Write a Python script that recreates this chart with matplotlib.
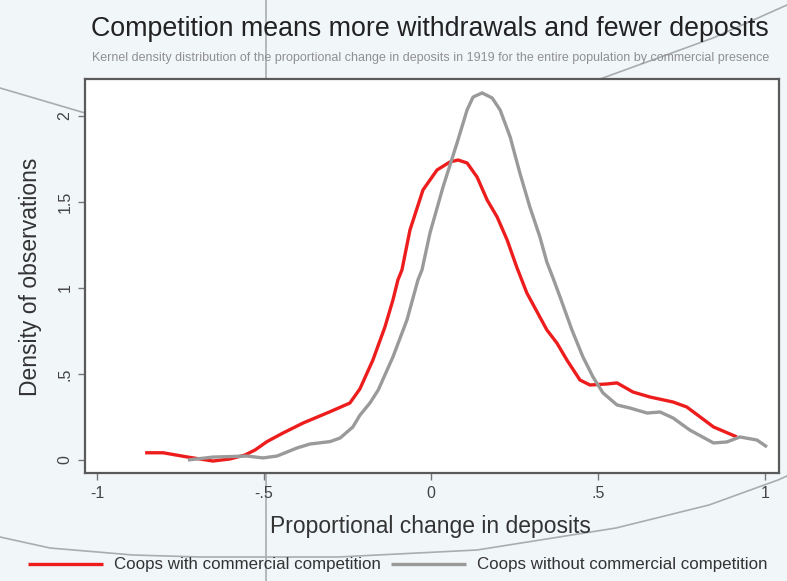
import matplotlib
matplotlib.use("Agg")
import matplotlib.pyplot as plt
from matplotlib.lines import Line2D
import numpy as np

plt.rcParams['font.family'] = ['Liberation Sans', 'DejaVu Sans']

title = "Competition means more withdrawals and fewer deposits"
subtitle = ("Kernel density distribution of the proportional change in deposits in 1919 "
            "for the entire population by commercial presence")
xlabel = "Proportional change in deposits"
ylabel = "Density of observations"
series_names = ["Coops with commercial competition", "Coops without commercial competition"]

xticks = [-1, -0.5, 0, 0.5, 1]
xtick_labels = ["-1", "-.5", "0", ".5", "1"]
yticks = [0, 0.5, 1, 1.5, 2]
ytick_labels = ["0", ".5", "1", "1.5", "2"]

red_x = [-0.856, -0.802, -0.728, -0.653, -0.602, -0.557, -0.527, -0.491, -0.443, -0.383,
         -0.302, -0.243, -0.213, -0.174, -0.138, -0.114, -0.099, -0.087, -0.063, -0.024,
         0.018, 0.057, 0.081, 0.108, 0.138, 0.168, 0.198, 0.228, 0.257, 0.287,
         0.326, 0.347, 0.377, 0.407, 0.446, 0.476, 0.527, 0.557, 0.605, 0.656,
         0.725, 0.766, 0.806, 0.846, 0.916]
red_y = [0.042, 0.042, 0.017, -0.006, 0.006, 0.029, 0.058, 0.107, 0.157, 0.215,
         0.281, 0.331, 0.413, 0.581, 0.773, 0.930, 1.047, 1.105, 1.337, 1.570,
         1.686, 1.733, 1.744, 1.727, 1.645, 1.512, 1.413, 1.279, 1.120, 0.971,
         0.831, 0.756, 0.680, 0.581, 0.465, 0.436, 0.442, 0.448, 0.395, 0.366,
         0.337, 0.308, 0.250, 0.192, 0.134]

gray_x = [-0.728, -0.653, -0.551, -0.503, -0.461, -0.401, -0.362, -0.302, -0.272, -0.234,
          -0.213, -0.183, -0.158, -0.114, -0.072, -0.039, -0.027, -0.003, 0.036, 0.078,
          0.108, 0.126, 0.153, 0.183, 0.207, 0.237, 0.266, 0.296, 0.326, 0.347,
          0.365, 0.386, 0.422, 0.455, 0.485, 0.515, 0.557, 0.596, 0.647, 0.686,
          0.725, 0.775, 0.846, 0.886, 0.925, 0.976, 1.006]
gray_y = [0.000, 0.017, 0.023, 0.012, 0.023, 0.070, 0.093, 0.107, 0.128, 0.192,
          0.260, 0.331, 0.407, 0.599, 0.814, 1.047, 1.105, 1.320, 1.587, 1.843,
          2.035, 2.110, 2.134, 2.105, 2.035, 1.878, 1.669, 1.471, 1.297, 1.150,
          1.060, 0.950, 0.756, 0.599, 0.483, 0.390, 0.320, 0.302, 0.273, 0.279,
          0.244, 0.174, 0.099, 0.105, 0.134, 0.116, 0.076]

W, H = 787, 581
bg = "#f1f6f9"
fig = plt.figure(figsize=(W / 100, H / 100), dpi=100, facecolor=bg)

# decorative background arcs
def px(xs, ys):
    return [x / W for x in xs], [1 - y / H for y in ys]

deco = "#a9adb0"
for xs, ys in [
    ([0, 50, 133, 200, 338, 477, 616, 709, 778, 787], [537, 548, 555, 557, 557, 550, 528, 505, 480, 476]),
    ([787, 713, 600], [5, 38, 79]),
    ([0, 85], [88, 113]),
    ([266, 266], [0, 581]),
]:
    fx, fy = px(xs, ys)
    fig.add_artist(Line2D(fx, fy, transform=fig.transFigure, color=deco, lw=1.2, zorder=0))

ax = fig.add_axes([85 / W, 1 - 473 / H, (779 - 85) / W, (473 - 79) / H])
ax.set_facecolor("white")
ax.set_zorder(2)

l1, = ax.plot(red_x, red_y, color="#ee1d1d", lw=2.4, solid_capstyle="butt")
l2, = ax.plot(gray_x, gray_y, color="#9a9a9a", lw=2.4, solid_capstyle="butt")

ax.set_xlim(-1.036, 1.042)
ax.set_ylim(-0.0756, 2.215)
ax.set_xticks(xticks)
ax.set_xticklabels(xtick_labels)
ax.set_yticks(yticks)
ax.set_yticklabels(ytick_labels, rotation=90, va="center")
ax.tick_params(axis="both", direction="out", length=5, width=1, color="#777777",
               labelcolor="#444444", labelsize=11.5, pad=4)
for s in ax.spines.values():
    s.set_color("#5a5a5a")
    s.set_linewidth(1.6)

fig.text(430 / W, 1 - 29 / H, title, ha="center", va="center", fontsize=19.3, color="#222222")
fig.text(431 / W, 1 - 58 / H, subtitle, ha="center", va="center", fontsize=9.0, color="#909090")
fig.text(31 / W, 1 - 277 / H, ylabel, rotation=90, ha="center", va="center", fontsize=16.5, color="#333333")
fig.text(430 / W, 1 - 526 / H, xlabel, ha="center", va="center", fontsize=16.5, color="#333333")

fig.legend([l1, l2], series_names, loc="center left", bbox_to_anchor=(28 / W, 1 - 565 / H),
           ncol=2, frameon=False, fontsize=12.2, handlelength=4.4, handletextpad=0.7,
           columnspacing=0.57, borderpad=0, borderaxespad=0, labelcolor="#333333")

fig.savefig("out.png", dpi=100, facecolor=bg)
